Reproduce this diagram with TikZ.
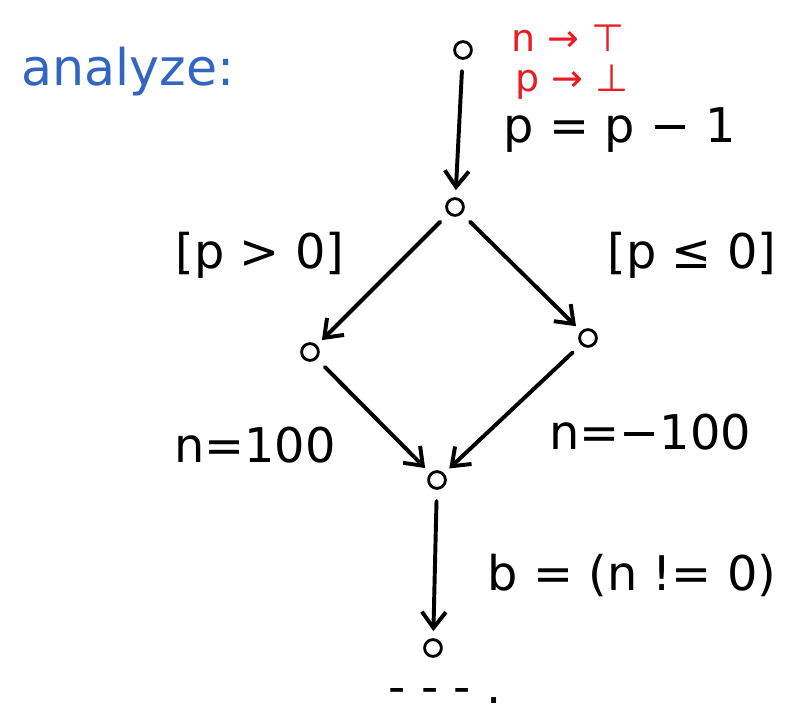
\documentclass[tikz,border=0pt]{standalone}
\usepackage{fontspec}
\setmainfont{DejaVu Sans}
\usetikzlibrary{arrows.meta}

\definecolor{penblue}{RGB}{50,102,192}
\definecolor{penred}{RGB}{232,28,36}

\begin{document}
\begin{tikzpicture}[
  x=0.025cm,y=-0.025cm,
  pt/.style={draw,circle,line width=2pt,minimum size=4.2mm,inner sep=0pt},
  flow/.style={-{Straight Barb[length=4mm,width=6mm]},line width=2.8pt,line cap=round,shorten <=8pt,shorten >=5pt},
  lbl/.style={font=\fontsize{34}{38}\selectfont},
  note/.style={font=\fontsize{27}{30}\selectfont,text=penred}
]
\useasboundingbox (0,0) rectangle (802,714);
\node[font=\fontsize{36}{40}\selectfont,text=penblue] (title) at (128,72) {analyze:};

\node[pt] (top) at (463,50) {};
\node[pt] (split) at (455,207) {};
\node[pt] (left) at (310,352) {};
\node[pt] (right) at (588,338) {};
\node[pt] (merge) at (437,480) {};
\node[pt] (bottom) at (433,648) {};

\node[note] (nval) at (568,38) {n → ⊤};
\node[note] (pval) at (572,82) {p → ⊥};
\node[lbl] (dec) at (620,130) {p = p − 1};
\node[lbl] (gpos) at (260,255) {[p > 0]};
\node[lbl] (gneg) at (692,255) {[p ≤ 0]};
\node[lbl] (apos) at (255,445) {n=100};
\node[lbl] (aneg) at (650,432) {n=−100};
\node[lbl] (test) at (632,575) {b = (n != 0)};
\node[lbl,inner sep=0pt] (more) at (445,703) {\smash{- - - .}};

\draw[flow] (top) -- (split);
\draw[flow] (split) -- (left);
\draw[flow] (split) -- (right);
\draw[flow] (left) -- (merge);
\draw[flow] (right) -- (merge);
\draw[flow] (merge) -- (bottom);
\end{tikzpicture}
\end{document}
